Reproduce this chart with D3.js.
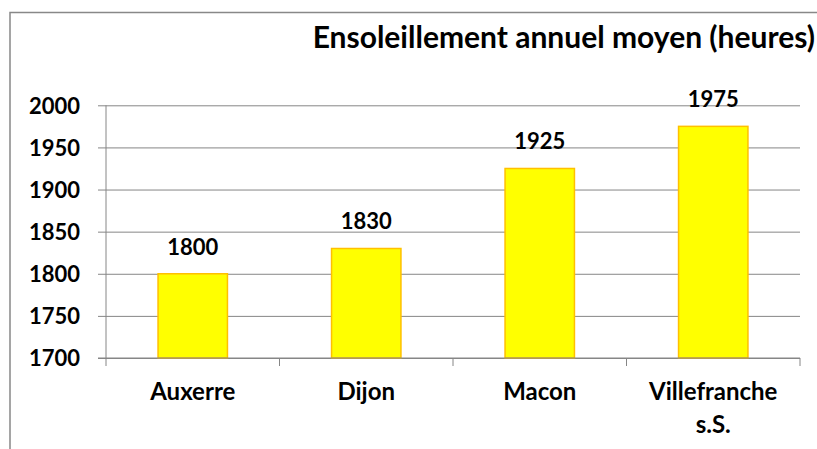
<!DOCTYPE html>
<html>
<head>
<meta charset="utf-8">
<script src="https://cdn.jsdelivr.net/npm/d3@7"></script>
<style>
  body { margin: 0; background: #fff; }
  text { font-family: Lato, "Open Sans", sans-serif; font-weight: bold; fill: #000; }
</style>
</head>
<body>
<script>
(function() {

    var villes = ['Auxerre', 'Dijon', 'Macon', 'Villefranche s.S.']; //categories
    var heures = [1800, 1830, 1925, 1975]; //sunshine hours
    var yTicks = [1700, 1750, 1800, 1850, 1900, 1950, 2000];

    var W = 817, H = 449;
    var left = 106, right = 800, top = 105.3, bottom = 358;

    var svg = d3.select('body').append('svg')
        .attr('width', W)
        .attr('height', H);

    // chart border (cut off on right and bottom)
    svg.append('path')
        .attr('d', 'M10,' + H + 'V12.5H' + W)
        .attr('fill', 'none')
        .attr('stroke', '#888')
        .attr('stroke-width', 1.5);

    svg.append('text')
        .attr('x', 815)
        .attr('y', 48)
        .attr('text-anchor', 'end')
        .style('font-size', '30px')
        .text('Ensoleillement annuel moyen (heures)');

    var x = d3.scaleBand().domain(villes).range([left, right]);
    var y = d3.scaleLinear().domain([1700, 2000]).range([bottom, top]);

    // gridlines + y labels
    var yAxis = svg.append('g')
        .attr('transform', 'translate(' + left + ',0)')
        .call(d3.axisLeft(y).tickValues(yTicks).tickFormat(d3.format('d'))
            .tickSize(8).tickPadding(18).tickSizeOuter(0));
    yAxis.select('.domain').remove();
    yAxis.selectAll('.tick line')
        .attr('x1', -8)
        .attr('x2', right - left)
        .attr('stroke', '#868686');
    yAxis.selectAll('.tick text')
        .style('font-size', '22px')
        .attr('font-family', null)
        .attr('dy', '0.36em');

    // y axis line
    svg.append('line')
        .attr('x1', left).attr('x2', left)
        .attr('y1', top).attr('y2', bottom + 8)
        .attr('stroke', '#868686');

    // bars
    var bw = x.bandwidth() * 0.4;
    svg.selectAll('rect.bar')
        .data(heures)
        .enter().append('rect')
        .attr('class', 'bar')
        .attr('x', function(d, i) { return x(villes[i]) + (x.bandwidth() - bw) / 2; })
        .attr('y', function(d) { return y(d); })
        .attr('width', bw)
        .attr('height', function(d) { return bottom - y(d); })
        .attr('fill', '#FFFF00')
        .attr('stroke', '#FFC000')
        .attr('stroke-width', 1.5);

    // value labels
    svg.selectAll('text.val')
        .data(heures)
        .enter().append('text')
        .attr('class', 'val')
        .attr('x', function(d, i) { return x(villes[i]) + x.bandwidth() / 2; })
        .attr('y', function(d) { return y(d) - 19; })
        .attr('text-anchor', 'middle')
        .style('font-size', '22px')
        .text(function(d) { return d; });

    // x axis line and ticks between bands
    svg.append('line')
        .attr('x1', left - 8).attr('x2', right)
        .attr('y1', bottom).attr('y2', bottom)
        .attr('stroke', '#868686');
    var edges = villes.map(function(v) { return x(v); }).concat([right]);
    svg.selectAll('line.xt')
        .data(edges.slice(1))
        .enter().append('line')
        .attr('class', 'xt')
        .attr('x1', function(d) { return d; }).attr('x2', function(d) { return d; })
        .attr('y1', bottom).attr('y2', bottom + 8)
        .attr('stroke', '#868686');

    // category labels, wrapped like the original
    var labels = svg.selectAll('text.cat')
        .data(villes)
        .enter().append('text')
        .attr('class', 'cat')
        .attr('text-anchor', 'middle')
        .style('font-size', '24px');
    labels.each(function(d) {
        var words = d === 'Villefranche s.S.' ? ['Villefranche', 's.S.'] : [d];
        var t = d3.select(this);
        words.forEach(function(w, k) {
            t.append('tspan')
                .attr('x', x(d) + x.bandwidth() / 2)
                .attr('y', 400 + k * 33)
                .text(w);
        });
    });

})();
</script>
</body>
</html>
